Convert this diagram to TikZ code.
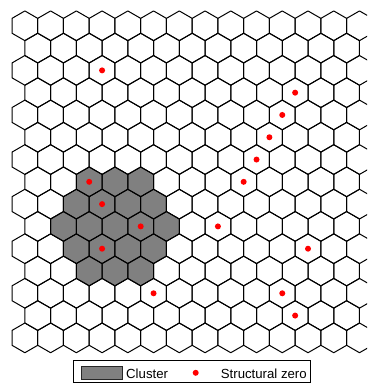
\documentclass[tikz,border=0pt]{standalone}
\usepackage{fontspec}
\setmainfont{Liberation Sans}
\begin{document}
\begin{tikzpicture}[x=1pt,y=-1pt,
  hexline/.style={line width=1pt, line join=round, draw=black},
  clusterfill/.style={fill=black!50},
  zerodot/.style={circle, fill=red, draw=none, minimum size=6pt, inner sep=0pt},
  legendtext/.style={anchor=base west, inner sep=0pt, font=\fontsize{13.2}{15}\selectfont},
  hexcell/.pic={\path[pic actions] (0,-14.86) -- (12.87,-7.43) -- (12.87,7.43) -- (0,14.86) -- (-12.87,7.43) -- (-12.87,-7.43) -- cycle;}]
\useasboundingbox (0,0) rectangle (367,383);
\begin{scope}
\clip (0,0) rectangle (367,383);
% cluster fill
\foreach \i/\ka/\kb in {7/2/4, 8/2/5, 9/1/5, 10/2/5, 11/2/4}{
  \pgfmathsetmacro\cy{25.8+22.29*\i}
  \pgfmathtruncatemacro\rowsh{mod(\i,2)}
  \foreach \k in {\ka,...,\kb}{
    \pgfmathsetmacro\cx{24.87+12.87*\rowsh+25.74*\k}
    \pic[clusterfill] at (\cx,\cy) {hexcell};
  }
}
% grid
\foreach \i in {0,...,14}{
  \pgfmathsetmacro\cy{25.8+22.29*\i}
  \pgfmathtruncatemacro\rowsh{mod(\i,2)}
  \pgfmathtruncatemacro\kmax{13-\rowsh}
  \foreach \k in {0,...,\kmax}{
    \pgfmathsetmacro\cx{24.87+12.87*\rowsh+25.74*\k}
    \pic[hexline] at (\cx,\cy) {hexcell};
  }
}
% structural zeros
\foreach \i/\k [count=\n] in {2/3, 3/10, 4/10, 5/9, 6/9, 7/8, 7/2, 8/3, 9/4, 9/7, 10/3, 10/11, 12/5, 12/10, 13/10}{
  \pgfmathsetmacro\cy{25.8+22.29*\i}
  \pgfmathtruncatemacro\rowsh{mod(\i,2)}
  \pgfmathsetmacro\cx{24.87+12.87*\rowsh+25.74*\k}
  \node[zerodot] (z\n) at (\cx,\cy) {};
}
\end{scope}
% legend
\node[draw=black, line width=0.9pt, fill=white, inner sep=0pt, minimum width=237pt, minimum height=21.6pt] (legend) at (191.5,371.5) {};
\node[draw=black!85, line width=0.8pt, clusterfill, inner sep=0pt, minimum width=41pt, minimum height=12.3pt] (swatch) at (102.2,372.8) {};
\node[legendtext] (clusterlabel) at (126,378.3) {Cluster};
\node[zerodot] (legenddot) at (195.7,372.8) {};
\node[legendtext] (zerolabel) at (220.7,378.3) {Structural zero};
\end{tikzpicture}
\end{document}
